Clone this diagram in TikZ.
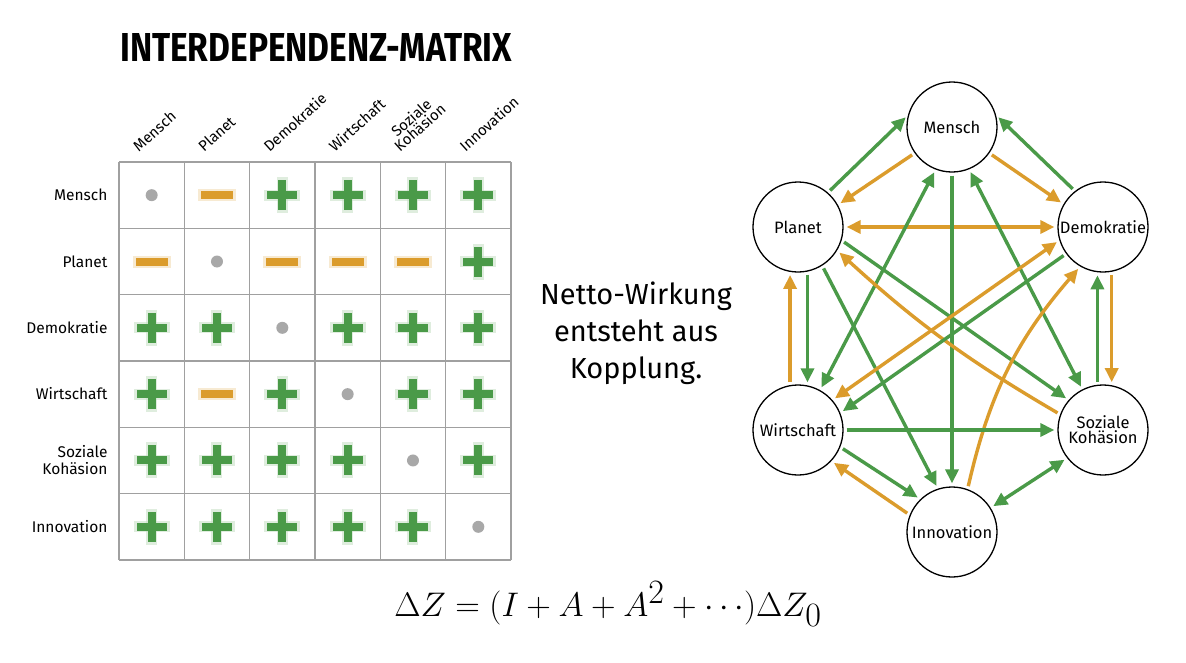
\documentclass[tikz,border=0pt]{standalone}
\usepackage{fontspec}
\setmainfont{Fira Sans}
\usetikzlibrary{arrows.meta}
\definecolor{grn}{HTML}{4A9A48}
\definecolor{org}{HTML}{DB9C2C}
\definecolor{dotc}{HTML}{A8A8A8}
\definecolor{gridc}{HTML}{A0A0A0}
\begin{document}
\begin{tikzpicture}[x=1pt,y=-1pt,
  lab/.style={font=\fontsize{15.5}{17}\selectfont},
  hdr/.style={font=\fontsize{15}{13}\selectfont,rotate=42,anchor=south west,inner sep=0pt,align=center},
  gnode/.style={circle,draw=black,line width=1.3pt,minimum size=90pt,inner sep=0pt,fill=white,font=\fontsize{16.5}{18}\selectfont,align=center},
  ed/.style={line width=3.4pt,shorten >=3pt,shorten <=3pt,-{Triangle[length=14pt,width=13pt]}},
  ged/.style={ed,draw=grn},
  oed/.style={ed,draw=org},
  dd/.style={{Triangle[length=14pt,width=13pt]}-{Triangle[length=14pt,width=13pt]}}
]
\useasboundingbox (0,0) rectangle (1186,662);
\fill[white] (0,0) rectangle (1186,662);
% title
\node[anchor=south west,inner sep=0pt] (title) at (120,62) {\resizebox{392pt}{28pt}{\fontsize{30}{30}\selectfont\bfseries INTERDEPENDENZ-MATRIX}};
% grid
\def\cw{65.33}\def\rh{66.33}
\foreach \i in {0,...,6}{
  \draw[gridc,line width=1.3pt] (119+\i*\cw,162) -- (119+\i*\cw,560);
  \draw[gridc,line width=1.3pt] (119,162+\i*\rh) -- (511,162+\i*\rh);
}
% row labels
\foreach \t [count=\k from 0] in {Mensch,Planet,Demokratie,Wirtschaft,{Soziale\\Kohäsion},Innovation}{
  \node[lab,anchor=east,align=right] (r\k) at (111,195+\k*\rh) {\t};
}
% headers
\foreach \t [count=\k from 0] in {Mensch,Planet,Demokratie,Wirtschaft,{Soziale\\Kohäsion},Innovation}{
  \node[hdr] (c\k) at (139+\k*\cw,153) {\t};
}
% symbols
\newcommand{\plusm}[2]{\fill[grn!35,opacity=.5] (#1-18,#2-5.5) rectangle (#1+18,#2+5.5); \fill[grn!35,opacity=.5] (#1-5.5,#2-18) rectangle (#1+5.5,#2+18);
  \fill[grn] (#1-15,#2-4) rectangle (#1+15,#2+4); \fill[grn] (#1-4,#2-15) rectangle (#1+4,#2+15);}
\newcommand{\minusm}[2]{\fill[org!35,opacity=.6] (#1-19,#2-6) rectangle (#1+19,#2+6); \fill[org] (#1-16,#2-4) rectangle (#1+16,#2+4);}
\newcommand{\dotm}[2]{\fill[dotc] (#1,#2) circle (6);}
\def\M{{"d","m","p","p","p","p","m","d","m","m","m","p","p","p","d","p","p","p","p","m","p","d","p","p","p","p","p","p","d","p","p","p","p","p","p","d"}}
\foreach \r in {0,...,5}{\foreach \c in {0,...,5}{
  \pgfmathsetmacro{\sx}{119+(\c+0.5)*\cw}\pgfmathsetmacro{\sy}{162+(\r+0.5)*\rh}
  \pgfmathparse{\M[\r*6+\c]}
  \edef\s{\pgfmathresult}
  \if d\s \dotm{\sx}{\sy}\fi
  \if m\s \minusm{\sx}{\sy}\fi
  \if p\s \plusm{\sx}{\sy}\fi
}}
% middle text
\node[font=\fontsize{29}{37}\selectfont,align=center] (net) at (636,333) {Netto-Wirkung\\entsteht aus\\Kopplung.};
% formula
\node (form) at (608,604) {\scalebox{1.37}{\fontsize{38}{40}\selectfont$\Delta Z = (I + A + A^2 + \cdots)\Delta Z_0$}};
% graph nodes
\node[gnode] (M) at (952,127) {Mensch};
\node[gnode] (P) at (798,227) {Planet};
\node[gnode] (D) at (1103,227) {Demokratie};
\node[gnode] (W) at (798,430) {Wirtschaft};
\node[gnode] (S) at (1103,430) {Soziale\\[-3pt]Kohäsion};
\node[gnode] (I) at (952,532) {Innovation};
% edges
\draw[ged] (P.49) -- (M.165);
\draw[oed] (M.215) -- (P.29);
\draw[oed] (M.325) -- (D.150);
\draw[ged] (D.128) -- (M.15);
\draw[oed,dd] (P.0) -- (D.180);
\draw[ged] (M.270) -- (I.90);
\draw[ged,dd] (M.249) -- (W.61);
\draw[ged,dd] (M.292) -- (S.117);
\draw[ged] (P.-17) -- (S.139);
\draw[oed] (S.160) to[bend left=6] (P.-31);
\draw[ged] (P.-58) -- (I.108);
\draw[ged] (P.-78) -- (W.78);
\draw[oed] (W.100) -- (P.-100);
\draw[oed,dd] (W.41) -- (D.197);
\draw[ged] (D.216) -- (W.22);
\draw[oed] (I.70) to[bend left=14] (D.240);
\draw[oed] (D.-79) -- (S.79);
\draw[ged] (S.97) -- (D.-97);
\draw[ged] (W.0) -- (S.180);
\draw[ged] (W.-22) -- (I.134);
\draw[oed] (I.158) -- (W.-43);
\draw[ged,dd] (I.32) -- (S.218);
\end{tikzpicture}
\end{document}
